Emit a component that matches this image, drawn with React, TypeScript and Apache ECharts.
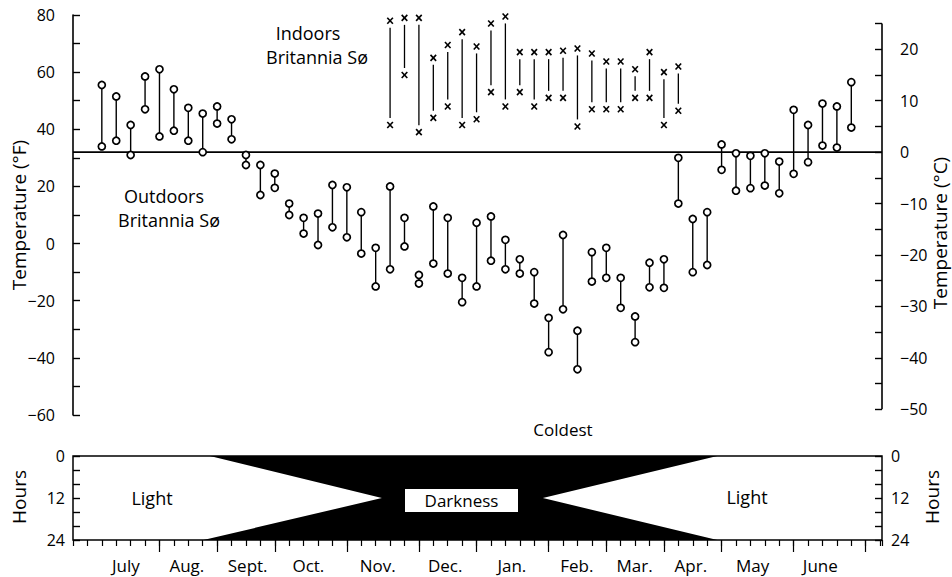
import React, { useEffect, useRef } from "react";
import * as echarts from "echarts";

// ---------- data ----------
// x unit: weeks from the left edge of the chart (week 0 = left axis)
const OUT_WEEKS = [2, 3, 4, 5, 6, 7, 8, 9, 10, 11, 12, 13, 14, 15, 16, 17, 18, 19, 20, 21, 22, 23, 24, 25, 26, 27, 28, 29, 30, 31, 32, 33, 34, 35, 36, 37, 38, 39, 40, 41, 42, 43, 44, 45, 46, 47, 48, 49, 50, 51, 52, 53, 54];
const OUT_HIGH_F = [55.5, 51.5, 41.5, 58.5, 61, 54, 47.5, 45.5, 48, 43.5, 31, 27.5, 24.5, 14, 9, 10.5, 20.5, 19.7, 11, -1.5, 20, 9, -11, 13, 9, -12, 7.3, 9.5, 1.3, -5.5, -10, -26, 3, -30.5, -3, -1.5, -12, -25.5, -6.7, -5.5, 30, 8.6, 11, 34.7, 31.6, 30.7, 31.6, 28.7, 46.8, 41.5, 49, 48, 56.5];
const OUT_LOW_F = [34, 36, 31, 47, 37.5, 39.5, 36, 32, 42, 36.5, 27.5, 17, 19.5, 10, 3.5, -0.5, 5.7, 2.2, -3.5, -15, -9, -1, -14, -7, -10.5, -20.5, -15, -6, -9, -10.5, -21, -38, -23, -44, -13.3, -12, -22.5, -34.5, -15.3, -15.5, 14, -10, -7.5, 25.8, 18.5, 19.4, 20.3, 17.6, 24.4, 28.5, 34.3, 33.6, 40.6];

const IN_WEEKS = [22, 23, 24, 25, 26, 27, 28, 29, 30, 31, 32, 33, 34, 35, 36, 37, 38, 39, 40, 41, 42];
const IN_HIGH_F = [78, 79, 79, 65, 69.5, 74, 69, 77, 79.5, 67, 67, 67, 67.5, 68.3, 66.5, 63.7, 63.7, 61, 67, 60, 62];
const IN_LOW_F = [41.5, 59, 39, 44, 48, 41.5, 43.5, 53, 48, 53, 48, 51, 51, 41, 47, 47, 47, 51, 51, 41.5, 46.5];

const MONTHS = ["July", "Aug.", "Sept.", "Oct.", "Nov.", "Dec.", "Jan.", "Feb.", "Mar.", "Apr.", "May", "June"];
const MONTH_CENTERS = [3.67, 7.9, 12.12, 16.33, 21.14, 25.82, 30.45, 34.96, 38.96, 42.87, 47.15, 51.85];
const MONTH_BOUNDARIES = [6, 10, 14, 19, 24, 28, 33, 37, 41, 45, 50, 55];

// darkness polygon (week, hour of day)
const DARK_WEEKS = [9.5, 44.7, 32.6, 44.7, 9.05, 21.43];
const DARK_HOURS = [0, 0, 12, 24, 24, 12];

const F_TICKS_MIN = -60;
const F_TICKS_MAX = 80;
const C_LABELS = [-50, -40, -30, -20, -10, 0, 10, 20];
const C_TICKS = [-50, -45, -40, -35, -30, -25, -20, -15, -10, -5, 0, 5, 10, 15, 20, 25];
const C_AXIS_SPAN = [25, -50];
const FREEZING_F = 32;
const X_MAX = 56.13;

const toC = (f: number) => ((f - 32) * 5) / 9;
const minus = (v: number) => String(v).replace("-", "\u2212");

const FONT = "'Open Sans', 'DejaVu Sans', sans-serif";
const BLACK = "#000";

export default function App() {
  const ref = useRef<HTMLDivElement>(null);

  useEffect(() => {
    const chart = echarts.init(ref.current!, null, { renderer: "svg" });

    const outData = OUT_WEEKS.map((w, i) => [w, OUT_HIGH_F[i], OUT_LOW_F[i]]);
    const inData = IN_WEEKS.map((w, i) => [w, IN_HIGH_F[i], IN_LOW_F[i]]);
    const darkData = DARK_WEEKS.map((w, i) => [w, DARK_HOURS[i]]);

    const txt = (text: string, x: number, y: number, size = 18, rotation = 0) => ({
      type: "text",
      x,
      y,
      rotation,
      z: 100,
      style: {
        text,
        fill: BLACK,
        font: `${size}px ${FONT}`,
        textAlign: "center",
        textVerticalAlign: "middle",
      },
    });

    const option: any = {
      animation: false,
      backgroundColor: "#fff",
      textStyle: { fontFamily: FONT, color: BLACK },
      grid: [
        { left: 73, top: 15, width: 809, height: 400, containLabel: false },
        {
          left: 73,
          top: 456,
          width: 809,
          height: 84,
          show: true,
          borderColor: BLACK,
          borderWidth: 1.5,
          backgroundColor: "#fff",
          containLabel: false,
        },
      ],
      xAxis: [
        { gridIndex: 0, type: "value", min: 0, max: X_MAX, show: false },
        {
          gridIndex: 1,
          type: "value",
          min: 0,
          max: X_MAX,
          interval: 1,
          position: "bottom",
          axisLine: { show: false, onZero: false },
          axisTick: { show: true, inside: false, length: 6, lineStyle: { color: BLACK, width: 1.2 } },
          axisLabel: { show: false },
          splitLine: { show: false },
        },
        {
          gridIndex: 1,
          type: "value",
          min: 0,
          max: X_MAX,
          position: "bottom",
          axisLine: { show: false, onZero: false },
          axisTick: {
            show: true,
            inside: false,
            length: 12,
            customValues: MONTH_BOUNDARIES,
            lineStyle: { color: BLACK, width: 1.2 },
          },
          axisLabel: {
            show: true,
            customValues: MONTH_CENTERS,
            margin: 17,
            fontSize: 17,
            color: BLACK,
            fontFamily: FONT,
            formatter: (v: number) => {
              const i = MONTH_CENTERS.findIndex((c) => Math.abs(c - v) < 1e-6);
              return i >= 0 ? MONTHS[i] : "";
            },
          },
          splitLine: { show: false },
        },
      ],
      yAxis: [
        {
          gridIndex: 0,
          type: "value",
          position: "left",
          min: F_TICKS_MIN,
          max: F_TICKS_MAX,
          interval: 20,
          axisLine: { show: true, onZero: false, lineStyle: { color: BLACK, width: 1.6 } },
          axisTick: { show: true, inside: true, length: 7, lineStyle: { color: BLACK, width: 1.4 } },
          minorTick: { show: true, splitNumber: 2, length: 7, lineStyle: { color: BLACK, width: 1.4 } },
          axisLabel: { margin: 18, fontSize: 16, color: BLACK, fontFamily: FONT, formatter: minus },
          splitLine: { show: false },
          minorSplitLine: { show: false },
        },
        {
          gridIndex: 0,
          type: "value",
          position: "right",
          min: toC(F_TICKS_MIN),
          max: toC(F_TICKS_MAX),
          axisLine: { show: false, onZero: false },
          axisTick: {
            show: true,
            inside: true,
            length: 7,
            customValues: C_TICKS,
            lineStyle: { color: BLACK, width: 1.4 },
          },
          axisLabel: {
            customValues: C_LABELS,
            margin: 18,
            fontSize: 16,
            color: BLACK,
            fontFamily: FONT,
            formatter: minus,
          },
          splitLine: { show: false },
        },
        {
          gridIndex: 1,
          type: "value",
          position: "left",
          min: 0,
          max: 24,
          interval: 12,
          inverse: true,
          axisLine: { show: false, onZero: false },
          axisTick: { show: true, inside: true, length: 7, lineStyle: { color: BLACK, width: 1.4 } },
          minorTick: { show: true, splitNumber: 3, length: 7, lineStyle: { color: BLACK, width: 1.4 } },
          axisLabel: { margin: 8, fontSize: 16, color: BLACK, fontFamily: FONT },
          splitLine: { show: false },
          minorSplitLine: { show: false },
        },
        {
          gridIndex: 1,
          type: "value",
          position: "right",
          min: 0,
          max: 24,
          interval: 12,
          inverse: true,
          axisLine: { show: false, onZero: false },
          axisTick: { show: true, inside: true, length: 7, lineStyle: { color: BLACK, width: 1.4 } },
          minorTick: { show: true, splitNumber: 3, length: 7, lineStyle: { color: BLACK, width: 1.4 } },
          axisLabel: { margin: 9, fontSize: 16, color: BLACK, fontFamily: FONT },
          splitLine: { show: false },
          minorSplitLine: { show: false },
        },
      ],
      series: [
        {
          name: "Freezing",
          type: "line",
          xAxisIndex: 0,
          yAxisIndex: 0,
          data: [
            [0, FREEZING_F],
            [X_MAX, FREEZING_F],
          ],
          symbol: "none",
          clip: false,
          lineStyle: { color: BLACK, width: 1.7 },
          silent: true,
          z: 2,
        },
        {
          name: "Right axis",
          type: "line",
          xAxisIndex: 0,
          yAxisIndex: 1,
          data: C_AXIS_SPAN.map((c) => [X_MAX, c]),
          symbol: "none",
          clip: false,
          lineStyle: { color: BLACK, width: 1.6 },
          silent: true,
          z: 2,
        },
        {
          name: "Outdoors",
          type: "custom",
          xAxisIndex: 0,
          yAxisIndex: 0,
          data: outData,
          encode: { x: 0, y: [1, 2] },
          z: 5,
          renderItem: (_params: any, api: any) => {
            const w = api.value(0);
            const a = api.coord([w, api.value(1)]);
            const b = api.coord([w, api.value(2)]);
            const circ = (p: number[]) => ({
              type: "circle",
              shape: { cx: p[0], cy: p[1], r: 3.5 },
              style: { fill: "#fff", stroke: BLACK, lineWidth: 1.7 },
            });
            return {
              type: "group",
              children: [
                {
                  type: "line",
                  shape: { x1: a[0], y1: a[1], x2: b[0], y2: b[1] },
                  style: { stroke: BLACK, lineWidth: 1.4 },
                },
                circ(a),
                circ(b),
              ],
            };
          },
        },
        {
          name: "Indoors",
          type: "custom",
          xAxisIndex: 0,
          yAxisIndex: 0,
          data: inData,
          encode: { x: 0, y: [1, 2] },
          z: 5,
          renderItem: (_params: any, api: any) => {
            const w = api.value(0);
            const a = api.coord([w, api.value(1)]);
            const b = api.coord([w, api.value(2)]);
            const cross = (p: number[]) => [
              {
                type: "line",
                shape: { x1: p[0] - 2.8, y1: p[1] - 3, x2: p[0] + 2.8, y2: p[1] + 3 },
                style: { stroke: BLACK, lineWidth: 1.6 },
              },
              {
                type: "line",
                shape: { x1: p[0] + 2.8, y1: p[1] - 3, x2: p[0] - 2.8, y2: p[1] + 3 },
                style: { stroke: BLACK, lineWidth: 1.6 },
              },
            ];
            const children: any[] = [...cross(a), ...cross(b)];
            if (b[1] - a[1] > 14) {
              children.push({
                type: "line",
                shape: { x1: a[0], y1: a[1] + 7, x2: b[0], y2: b[1] - 7 },
                style: { stroke: BLACK, lineWidth: 1.3 },
              });
            }
            return { type: "group", children };
          },
        },
        {
          name: "Darkness",
          type: "custom",
          xAxisIndex: 1,
          yAxisIndex: 2,
          data: darkData,
          encode: { x: 0, y: 1 },
          z: 3,
          renderItem: (params: any, api: any) => {
            if (params.dataIndex !== 0) return { type: "group", children: [] };
            const pts = DARK_WEEKS.map((w, i) => api.coord([w, DARK_HOURS[i]]));
            return { type: "polygon", shape: { points: pts }, style: { fill: BLACK } };
          },
        },
      ],
      graphic: [
        txt("Temperature (°F)", 19, 215, 19, Math.PI / 2),
        txt("Temperature (°C)", 940, 233, 19, Math.PI / 2),
        txt("Hours", 19, 497, 19, Math.PI / 2),
        txt("Hours", 932, 497, 19, Math.PI / 2),
        txt("Indoors", 308, 33, 18),
        txt("Britannia Sø", 317, 57, 18),
        txt("Outdoors", 164, 196, 18),
        txt("Britannia Sø", 169, 220, 18),
        txt("Coldest", 563, 429, 17),
        txt("Light", 152, 498, 18),
        txt("Light", 747, 497, 18),
        {
          type: "rect",
          z: 99,
          shape: { x: 405, y: 489, width: 113, height: 23 },
          style: { fill: "#fff" },
        },
        txt("Darkness", 461.5, 500.5, 17),
      ],
    };

    chart.setOption(option);
    return () => chart.dispose();
  }, []);

  return (
    <div
      ref={ref}
      style={{ position: "fixed", left: 0, top: 0, width: 952, height: 577, background: "#fff" }}
    />
  );
}
